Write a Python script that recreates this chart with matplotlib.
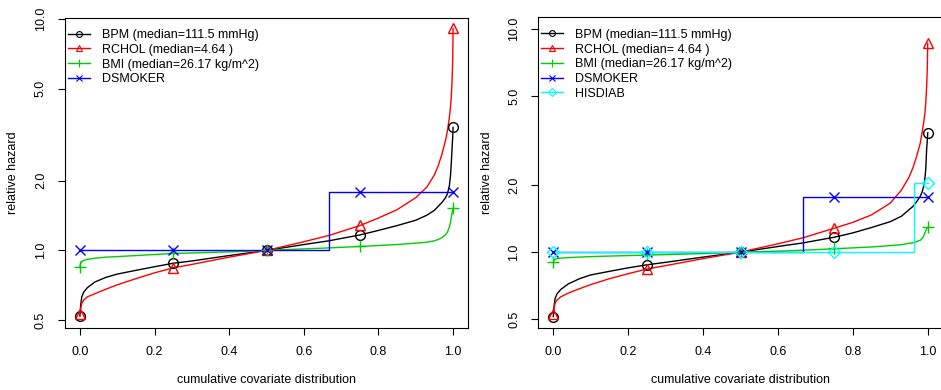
import matplotlib
matplotlib.use("Agg")
import matplotlib.pyplot as plt
from matplotlib.ticker import FixedLocator, NullLocator, FixedFormatter

plt.rcParams['font.family'] = ['Liberation Sans', 'DejaVu Sans']

# ---------------- data ----------------
curve_x = [0, 0.002, 0.005, 0.01, 0.02, 0.04, 0.07, 0.1, 0.15, 0.2, 0.25, 0.3, 0.4, 0.5,
           0.6, 0.667, 0.75, 0.8, 0.85, 0.9, 0.93, 0.95, 0.96, 0.97, 0.98, 0.985, 0.99,
           0.993, 0.995, 0.997, 0.999, 1.0]
marker_x = [0, 0.25, 0.5, 0.75, 1.0]

# left panel
bpm_L = [0.52, 0.58, 0.63, 0.66, 0.69, 0.73, 0.765, 0.79, 0.82, 0.85, 0.88, 0.90, 0.95, 1.0,
         1.06, 1.10, 1.166, 1.22, 1.28, 1.35, 1.42, 1.49, 1.55, 1.61, 1.69, 1.76, 1.9,
         2.1, 2.35, 2.7, 3.1, 3.4]
rchol_L = [0.53, 0.56, 0.59, 0.61, 0.63, 0.65, 0.68, 0.71, 0.755, 0.80, 0.84, 0.87, 0.935, 1.0,
           1.09, 1.16, 1.28, 1.38, 1.50, 1.69, 1.88, 2.12, 2.32, 2.6, 3.0, 3.3, 3.75,
           4.15, 4.55, 5.3, 6.6, 9.1]
bmi_L = [0.85, 0.88, 0.895, 0.905, 0.915, 0.925, 0.935, 0.94, 0.95, 0.96, 0.97, 0.975, 0.985, 1.0,
         1.015, 1.025, 1.04, 1.05, 1.06, 1.075, 1.085, 1.10, 1.115, 1.135, 1.17, 1.20, 1.26,
         1.32, 1.38, 1.45, 1.5, 1.52]
smoker_step_x = [0, 0.667, 1.0]
smoker_L = [1.0, 1.78, 1.78]
bpm_mk_L = [0.52, 0.88, 1.0, 1.166, 3.4]
rchol_mk_L = [0.53, 0.84, 1.0, 1.29, 9.1]
bmi_mk_L = [0.85, 0.97, 1.0, 1.04, 1.52]
smoker_mk_L = [1.0, 1.0, 1.0, 1.78, 1.78]

# right panel
bpm_R = [0.514, 0.57, 0.62, 0.65, 0.68, 0.72, 0.76, 0.79, 0.82, 0.85, 0.877, 0.90, 0.95, 1.0,
         1.06, 1.10, 1.166, 1.22, 1.29, 1.37, 1.45, 1.55, 1.60, 1.68, 1.78, 1.86, 2.0,
         2.18, 2.4, 2.87, 3.2, 3.43]
rchol_R = [0.53, 0.56, 0.59, 0.61, 0.63, 0.655, 0.685, 0.715, 0.76, 0.80, 0.84, 0.87, 0.935, 1.0,
           1.09, 1.16, 1.28, 1.36, 1.47, 1.66, 1.9, 2.17, 2.38, 2.68, 3.08, 3.45, 3.9,
           4.3, 4.75, 5.5, 6.8, 8.65]
bmi_R = [0.90, 0.92, 0.93, 0.935, 0.94, 0.945, 0.95, 0.955, 0.96, 0.965, 0.97, 0.975, 0.985, 1.0,
         1.01, 1.02, 1.035, 1.045, 1.055, 1.07, 1.08, 1.095, 1.10, 1.115, 1.13, 1.15, 1.19,
         1.23, 1.25, 1.27, 1.285, 1.29]
smoker_R = [1.0, 1.76, 1.76]
diab_step_x = [0, 0.964, 1.0]
diab_R = [1.0, 2.05, 2.05]
bpm_mk_R = [0.514, 0.877, 1.0, 1.166, 3.43]
rchol_mk_R = [0.53, 0.84, 1.0, 1.28, 8.65]
bmi_mk_R = [0.90, 0.98, 1.0, 1.04, 1.29]
smoker_mk_R = [1.0, 1.0, 1.0, 1.76, 1.76]
diab_mk_R = [1.0, 1.0, 1.0, 1.0, 2.05]

labels_L = ["BPM (median=111.5 mmHg)", "RCHOL (median=4.64 )",
            "BMI (median=26.17 kg/m^2)", "DSMOKER"]
labels_R = ["BPM (median=111.5 mmHg)", "RCHOL (median= 4.64 )",
            "BMI (median=26.17 kg/m^2)", "DSMOKER", "HISDIAB"]

xticks = [0.0, 0.2, 0.4, 0.6, 0.8, 1.0]
xticklabels = ["0.0", "0.2", "0.4", "0.6", "0.8", "1.0"]
yticks = [0.5, 1.0, 2.0, 5.0, 10.0]
yticklabels = ["0.5", "1.0", "2.0", "5.0", "10.0"]

# ---------------- style ----------------
colors = ["black", "#FF0000", "#00CD00", "#0000FF", "#00FFFF"]
markers = ["o", "^", "+", "x", "D"]
msizes = [7, 7.5, 9, 7.5, 6.5]
FS = 9
LW = 1.0

fig = plt.figure(figsize=(9.41, 3.90), dpi=100)
W, H = 941, 390


def make_ax(x0, x1, y0, y1):
    return fig.add_axes([x0 / W, 1 - y1 / H, (x1 - x0) / W, (y1 - y0) / H])


axL = make_ax(65, 468, 17.5, 328)
axR = make_ax(538.3, 942.7, 17.3, 327.7)


def style(ax, ylim):
    ax.set_yscale('log')
    ax.set_xlim(-0.04, 1.04)
    ax.set_ylim(*ylim)
    ax.yaxis.set_major_locator(FixedLocator(yticks))
    ax.yaxis.set_major_formatter(FixedFormatter(yticklabels))
    ax.yaxis.set_minor_locator(NullLocator())
    ax.set_xticks(xticks)
    ax.set_xticklabels(xticklabels)
    ax.tick_params(axis='both', direction='out', length=5, width=0.8,
                   labelsize=FS, pad=8, color='black')
    for lab in ax.get_yticklabels():
        lab.set_rotation(90)
        lab.set_va('center')
    for s in ax.spines.values():
        s.set_linewidth(0.8)
        s.set_color('black')
    ax.set_xlabel("cumulative covariate distribution", fontsize=FS)
    ax.xaxis.label.set_va('center')
    ax.xaxis.set_label_coords(0.5, -0.1675)
    ax.set_ylabel("relative hazard", fontsize=FS)
    ax.yaxis.label.set_va('center')
    ax.yaxis.set_label_coords(-0.128, 0.5)


def draw(ax, curves, steps, mk, labels):
    handles = []
    i = 0
    for yv in curves:
        ax.plot(curve_x, yv, color=colors[i], lw=LW)
        i += 1
    j = 0
    for sx, sy in steps:
        ax.plot(sx, sy, color=colors[len(curves) + j], lw=LW, drawstyle='steps-post')
        j += 1
    for k, mv in enumerate(mk):
        ax.plot(marker_x, mv, linestyle='none', marker=markers[k], ms=msizes[k],
                mfc='none', mec=colors[k], mew=1.0, clip_on=False)
        h, = ax.plot([], [], color=colors[k], lw=LW, marker=markers[k],
                     ms=msizes[k] * 0.6, mfc='none', mec=colors[k], mew=0.8)
        handles.append(h)
    ax.legend(handles, labels, loc='upper left', bbox_to_anchor=(0.0, 0.973),
              frameon=False, fontsize=FS, handlelength=1.76, handletextpad=0.94,
              labelspacing=0.22, borderaxespad=0.0, borderpad=0.25)


style(axL, (0.462, 10.15))
style(axR, (0.458, 11.32))

draw(axL, [bpm_L, rchol_L, bmi_L], [(smoker_step_x, smoker_L)],
     [bpm_mk_L, rchol_mk_L, bmi_mk_L, smoker_mk_L], labels_L)
draw(axR, [bpm_R, rchol_R, bmi_R], [(smoker_step_x, smoker_R), (diab_step_x, diab_R)],
     [bpm_mk_R, rchol_mk_R, bmi_mk_R, smoker_mk_R, diab_mk_R], labels_R)

fig.savefig("out.png", dpi=100)
